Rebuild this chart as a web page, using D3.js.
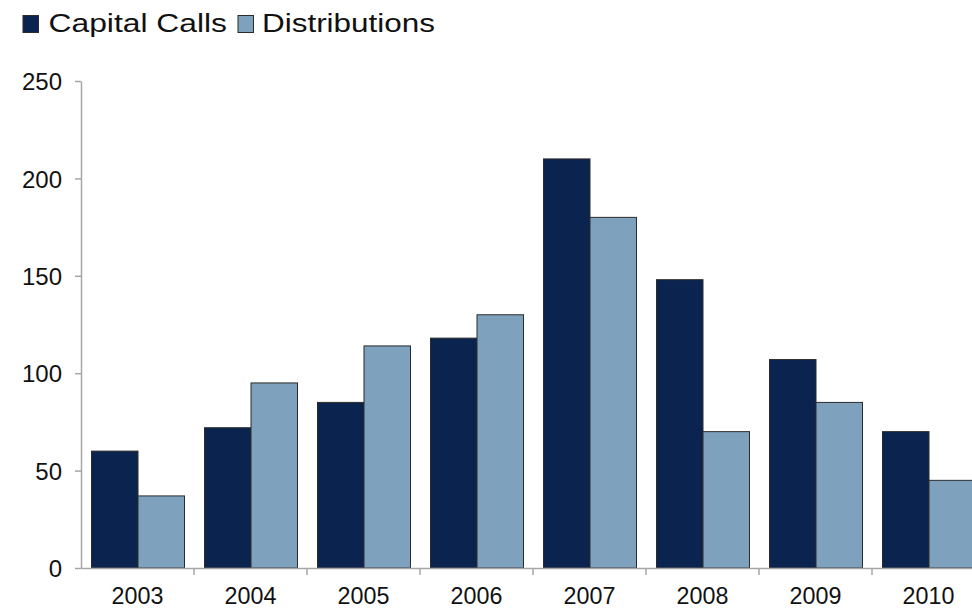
<!DOCTYPE html>
<html>
<head>
<meta charset="utf-8">
<script src="https://cdn.jsdelivr.net/npm/d3@7"></script>
<style>
  html, body { margin: 0; padding: 0; background: #ffffff; }
  svg { display: block; font-family: "Liberation Sans", Arial, sans-serif; }
</style>
</head>
<body>
<svg id="chart" width="972" height="608"></svg>
<script>
const years = ["2003", "2004", "2005", "2006", "2007", "2008", "2009", "2010"];
const seriesNames = ["Capital Calls", "Distributions"];
const capitalCalls = [60, 72, 85, 118, 210, 148, 107, 70];
const distributions = [37, 95, 114, 130, 180, 70, 85, 45];
const yTicks = [0, 50, 100, 150, 200, 250];
const colors = ["#0b244f", "#7ea1bd"];

(function () {
const svg = d3.select("#chart");
const mLeft = 81, mRight = 985, mTop = 81, mBottom = 568;

const x0 = d3.scaleBand().domain(years).range([mLeft, mRight]).padding(0);
const x1 = d3.scaleBand().domain(seriesNames).range([10.5, x0.bandwidth() - 9.5]).padding(0);
const y = d3.scaleLinear().domain([0, 250]).range([mBottom, mTop]);
const color = d3.scaleOrdinal().domain(seriesNames).range(colors);

const rows = years.map((yr, i) => ({ year: yr, values: [
  { name: seriesNames[0], value: capitalCalls[i] },
  { name: seriesNames[1], value: distributions[i] }
]}));

// bars
const g = svg.append("g");
g.selectAll("g.grp").data(rows).join("g")
  .attr("class", "grp")
  .attr("transform", d => `translate(${x0(d.year)},0)`)
  .selectAll("rect").data(d => d.values).join("rect")
  .attr("x", d => x1(d.name))
  .attr("y", d => y(d.value))
  .attr("width", x1.bandwidth())
  .attr("height", d => y(0) - y(d.value))
  .attr("fill", d => color(d.name))
  .attr("stroke", "#2b2b2b")
  .attr("stroke-width", 1);

// y axis
const yAxis = svg.append("g")
  .attr("transform", `translate(${mLeft},0)`)
  .call(d3.axisLeft(y).tickValues(yTicks).tickSize(6).tickPadding(13).tickSizeOuter(0));
yAxis.select(".domain").attr("stroke", "#a6a6a6").attr("stroke-width", 1.5);
yAxis.selectAll(".tick line").attr("stroke", "#a6a6a6").attr("stroke-width", 1.5);
yAxis.selectAll(".tick text")
  .attr("fill", "#111").attr("font-size", "24px").attr("dy", "0.36em")
  .attr("font-family", "'Liberation Sans', Arial, sans-serif");

// x axis
const xAxis = svg.append("g")
  .attr("transform", `translate(0,${mBottom})`)
  .call(d3.axisBottom(x0).tickSize(0).tickPadding(0).tickSizeOuter(0));
xAxis.select(".domain").attr("stroke", "#a6a6a6").attr("stroke-width", 1.5);
xAxis.selectAll(".tick text")
  .attr("fill", "#111").attr("font-size", "23.3px")
  .attr("y", 36).attr("dy", "0")
  .attr("font-family", "'Liberation Sans', Arial, sans-serif");
// boundary ticks between categories
xAxis.selectAll("line.bound").data(years.slice(1)).join("line")
  .attr("class", "bound")
  .attr("x1", d => x0(d)).attr("x2", d => x0(d))
  .attr("y1", 0).attr("y2", 7)
  .attr("stroke", "#a6a6a6").attr("stroke-width", 1.5);

// legend
const legendItems = [
  { name: seriesNames[0], sx: 23, tx: 48.5, w: 178.5 },
  { name: seriesNames[1], sx: 238, tx: 262, w: 173 }
];
const lg = svg.append("g");
lg.selectAll("rect").data(legendItems).join("rect")
  .attr("x", d => d.sx).attr("y", 15.5)
  .attr("width", 15.5).attr("height", 17)
  .attr("fill", d => color(d.name))
  .attr("stroke", "#2b2b2b").attr("stroke-width", 1);
lg.selectAll("text").data(legendItems).join("text")
  .attr("x", d => d.tx).attr("y", 32)
  .attr("font-size", "26.5px")
  .attr("textLength", d => d.w)
  .attr("lengthAdjust", "spacingAndGlyphs")
  .attr("fill", "#111")
  .text(d => d.name);
})();
</script>
</body>
</html>
